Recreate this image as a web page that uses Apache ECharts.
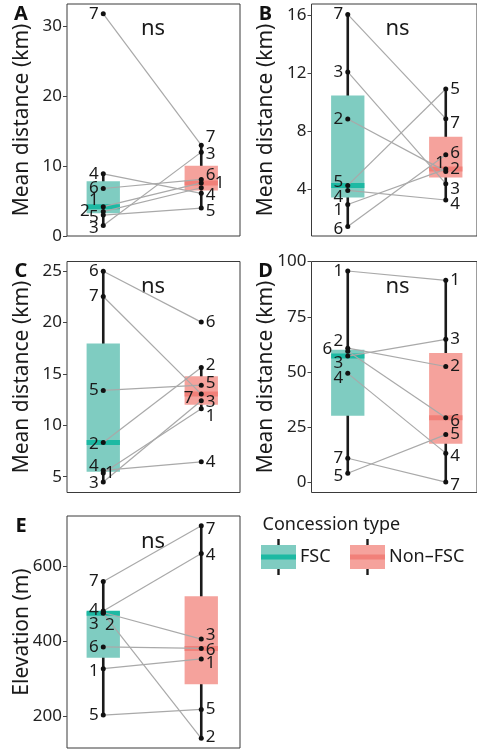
<!DOCTYPE html>
<html><head><meta charset="utf-8">
<script src="https://cdn.jsdelivr.net/npm/echarts@6/dist/echarts.min.js"></script>
<style>html,body{margin:0;padding:0;background:#fff}#c{width:477px;height:750px}</style>
</head><body><div id="c"></div>
<script>
// ---------- data ----------
const ids = ['1', '2', '3', '4', '5', '6', '7'];
const groupNames = ['FSC', 'Non\u2013FSC'];
const legendTitle = 'Concession type';
const significance = 'ns';

// Panel A: mean distance (km), individuals 1..7
const aFSC = [4.2, 3.5, 1.5, 8.9, 3.0, 6.8, 31.8];
const aNon = [7.6, 6.9, 12.0, 6.1, 4.0, 8.1, 13.0];
const aTicks = [0, 10, 20, 30];
// Panel B
const bFSC = [2.93, 8.84, 12.1, 3.9, 4.25, 1.41, 16.08];
const bNon = [5.38, 5.22, 4.37, 3.24, 10.92, 6.37, 8.87];
const bTicks = [4, 8, 12, 16];
// Panel C
const cFSC = [5.35, 8.32, 4.49, 5.62, 13.4, 25.0, 22.54];
const cNon = [11.62, 15.63, 12.4, 6.45, 13.91, 20.05, 13.04];
const cTicks = [5, 10, 15, 20, 25];
// Panel D
const dFSC = [95.7, 60.8, 57.2, 49.4, 4.2, 59.4, 11.0];
const dNon = [91.5, 52.5, 64.8, 13.3, 21.7, 29.3, 0.2];
const dTicks = [0, 25, 50, 75, 100];
// Panel E: elevation (m)
const eFSC = [326, 474, 476, 480, 202, 384, 559];
const eNon = [352, 140, 405, 634, 217, 380, 708];
const eTicks = [200, 400, 600];

const titleDist = 'Mean distance (km)';
const titleElev = 'Elevation (m)';

// ---------- layout / style (not data) ----------
const FONT = '"Noto Sans", "Open Sans", sans-serif';
const X_MIN = 0.63, X_PX = 98, BOX_HALF = 0.17;
const boxCol = ['#7fccc1', '#f5a29c'];
const medCol = ['#1db9a3', '#f18079'];
const panels = [
  {letter: 'A', fsc: aFSC, non: aNon, ticks: aTicks, title: titleDist, min: 0, max: 33.2, left: 67, top: 4, width: 173, height: 232,
   nudge: [{1: [0, -6], 2: [-9, 0], 5: [0, 2], 3: [0, 3]}, {7: [0, -8], 3: [0, 2], 6: [0, -4], 1: [9, 0], 4: [0, 2], 5: [0, 3]}], hide: [[], ['2']]},
  {letter: 'B', fsc: bFSC, non: bNon, ticks: bTicks, title: titleDist, min: 0.75, max: 16.8, left: 311.5, top: 4, width: 165.5, height: 232,
   nudge: [{5: [0, -3], 4: [0, 7], 1: [0, 6], 6: [0, 3]}, {7: [0, 5], 6: [0, -2], 1: [-15, -6], 2: [0, -2], 3: [0, 5], 4: [0, 4]}], hide: [[], []]},
  {letter: 'C', fsc: cFSC, non: cNon, ticks: cTicks, title: titleDist, min: 3.46, max: 25.95, left: 67, top: 261.5, width: 173, height: 231,
   nudge: [{2: [0, 2], 4: [0, -4], 1: [16, 0], 3: [0, 1]}, {2: [0, -2], 5: [0, -2], 7: [-22, 4], 3: [0, 1], 1: [0, 7]}], hide: [[], []]},
  {letter: 'D', fsc: dFSC, non: dNon, ticks: dTicks, title: titleDist, min: -4.5, max: 100, left: 311.5, top: 261.5, width: 165.5, height: 231,
   nudge: [{2: [0, -7], 6: [-11, -2], 3: [0, 7], 4: [0, 5], 5: [0, 3]}, {6: [0, 3], 4: [0, 3], 7: [0, 3]}], hide: [[], []]},
  {letter: 'E', fsc: eFSC, non: eNon, ticks: eTicks, title: titleElev, min: 114, max: 734, left: 67, top: 516, width: 173, height: 232,
   nudge: [{4: [0, -1], 3: [0, 12], 2: [16, 12], 1: [0, 2]}, {7: [0, 3], 4: [0, 2], 3: [0, -4], 6: [0, 2], 1: [0, 4], 2: [0, -1]}], hide: [[], []]}
];

// ggplot-style box statistics (type-7 quantiles, 1.5 IQR whiskers)
function quantile(s, p) {
  const h = (s.length - 1) * p, lo = Math.floor(h), hi = Math.min(lo + 1, s.length - 1);
  return s[lo] + (h - lo) * (s[hi] - s[lo]);
}
function boxStats(vals) {
  const s = [...vals].sort((a, b) => a - b);
  const q1 = quantile(s, 0.25), med = quantile(s, 0.5), q3 = quantile(s, 0.75), iqr = q3 - q1;
  const lo = Math.min(...s.filter(v => v >= q1 - 1.5 * iqr));
  const hi = Math.max(...s.filter(v => v <= q3 + 1.5 * iqr));
  return [q1, med, q3, lo, hi];
}

const grid = [], xAxis = [], yAxis = [], series = [], graphic = [];
panels.forEach((p, k) => {
  grid.push({left: p.left, top: p.top, width: p.width, height: p.height, show: true,
    borderColor: '#3a3a3a', borderWidth: 1, backgroundColor: 'transparent'});
  xAxis.push({gridIndex: k, type: 'value', min: X_MIN, max: X_MIN + p.width / X_PX, show: false});
  yAxis.push({gridIndex: k, type: 'value', min: p.min, max: p.max,
    axisLine: {show: false}, splitLine: {show: false},
    axisTick: {show: true, length: 4, lineStyle: {color: '#444', width: 1}, customValues: p.ticks},
    axisLabel: {customValues: p.ticks, margin: 5, fontSize: 17, color: '#222', fontFamily: FONT}});

  const groupsVals = [p.fsc, p.non];
  // boxes + whiskers
  series.push({
    type: 'custom', xAxisIndex: k, yAxisIndex: k, z: 1, silent: true, animation: false,
    data: groupsVals.map((vals, g) => [g + 1, ...boxStats(vals), g]),
    renderItem: function (params, api) {
      const x = api.value(0), g = api.value(6);
      const lo = api.coord([x, api.value(4)]), hi = api.coord([x, api.value(5)]);
      const tl = api.coord([x - BOX_HALF, api.value(3)]);
      const br = api.coord([x + BOX_HALF, api.value(1)]);
      const md = api.coord([x, api.value(2)]);
      return {type: 'group', children: [
        {type: 'line', shape: {x1: lo[0], y1: lo[1], x2: hi[0], y2: hi[1]}, style: {stroke: '#1a1a1a', lineWidth: 2.6}},
        {type: 'rect', shape: {x: tl[0], y: tl[1], width: br[0] - tl[0], height: br[1] - tl[1]}, style: {fill: boxCol[g]}},
        {type: 'rect', shape: {x: tl[0], y: md[1] - 2.5, width: br[0] - tl[0], height: 5}, style: {fill: medCol[g]}}
      ]};
    }
  });
  // paired lines
  series.push({
    type: 'lines', coordinateSystem: 'cartesian2d', xAxisIndex: k, yAxisIndex: k, z: 2, silent: true, animation: false,
    lineStyle: {color: '#a9a9a9', width: 1.2, opacity: 1, curveness: 0},
    data: ids.map((id, i) => ({coords: [[1, p.fsc[i]], [2, p.non[i]]]}))
  });
  // points with labels
  groupsVals.forEach((vals, g) => {
    series.push({
      type: 'scatter', xAxisIndex: k, yAxisIndex: k, z: 3, silent: true, animation: false,
      symbol: 'circle', symbolSize: 5, itemStyle: {color: '#111', opacity: 1},
      label: {show: true, formatter: '{b}', position: g === 0 ? 'left' : 'right', distance: 2,
        fontSize: 17, color: '#1a1a1a', fontFamily: FONT},
      data: vals.map((v, i) => {
        const id = ids[i];
        const off = p.nudge[g][id] || [0, 0];
        return {name: id, value: [g + 1, v],
          label: {show: p.hide[g].indexOf(id) < 0, offset: off}};
      })
    });
  });

  // panel letter, y title, "ns"
  graphic.push({type: 'text', x: p.left - 46, y: p.top + 10, style: {text: p.letter, fontSize: 20, fontWeight: 'bold',
    fontFamily: FONT, fill: '#111', align: 'center', verticalAlign: 'middle'}});
  graphic.push({type: 'text', x: p.left - 45, y: p.top + p.height / 2, rotation: Math.PI / 2,
    style: {text: p.title, fontSize: 21, fontFamily: FONT, fill: '#1a1a1a', align: 'center', verticalAlign: 'middle'}});
  graphic.push({type: 'text', x: p.left + 86, y: p.top + (k === 4 ? 26 : 25), style: {text: significance, fontSize: 22,
    fontFamily: FONT, fill: '#1a1a1a', align: 'center', verticalAlign: 'middle'}});
});

// legend (custom key drawn like a mini boxplot)
graphic.push({type: 'text', x: 262.5, y: 525, style: {text: legendTitle, fontSize: 18, fontFamily: FONT, fill: '#1a1a1a', align: 'left', verticalAlign: 'middle'}});
[[261, 'FSC'], [350, 'Non']].forEach((d, g) => {
  const x0 = d[0], cx = x0 + 17.5;
  graphic.push({type: 'line', shape: {x1: cx, y1: 539, x2: cx, y2: 575}, style: {stroke: '#1a1a1a', lineWidth: 2.4}});
  graphic.push({type: 'rect', shape: {x: x0, y: 545, width: 35, height: 24}, style: {fill: boxCol[g]}});
  graphic.push({type: 'rect', shape: {x: x0, y: 554.5, width: 35, height: 5}, style: {fill: medCol[g]}});
  graphic.push({type: 'text', x: x0 + 39, y: 557, style: {text: groupNames[g], fontSize: 18, fontFamily: FONT, fill: '#1a1a1a', align: 'left', verticalAlign: 'middle'}});
});

const chart = echarts.init(document.getElementById('c'), null, {renderer: 'canvas', width: 477, height: 750});
chart.setOption({animation: false, backgroundColor: '#fff', textStyle: {fontFamily: FONT},
  grid, xAxis, yAxis, series, graphic});
</script></body></html>
